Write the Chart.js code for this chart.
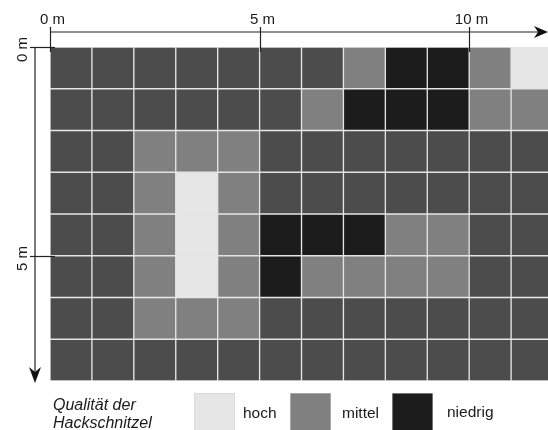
<!DOCTYPE html>
<html>
<head>
<meta charset="utf-8">
<script src="https://cdn.jsdelivr.net/npm/chart.js@4/dist/chart.umd.min.js"></script>
<style>
  html, body { margin: 0; padding: 0; background: #fff; overflow: hidden; }
  canvas { display: block; }
</style>
</head>
<body>
<canvas id="grid" width="548" height="430"></canvas>
<script>
// Data
const cellCols = [0, 1, 2, 3, 4, 5, 6, 7, 8, 9, 10, 11]; // meters from left edge
// quality per cell, one row per meter downwards: x = rest, h = hoch, m = mittel, n = niedrig
const quality = [
  ['x', 'x', 'x', 'x', 'x', 'x', 'x', 'm', 'n', 'n', 'm', 'h'],
  ['x', 'x', 'x', 'x', 'x', 'x', 'm', 'n', 'n', 'n', 'm', 'm'],
  ['x', 'x', 'm', 'm', 'm', 'x', 'x', 'x', 'x', 'x', 'x', 'x'],
  ['x', 'x', 'm', 'h', 'm', 'x', 'x', 'x', 'x', 'x', 'x', 'x'],
  ['x', 'x', 'm', 'h', 'm', 'n', 'n', 'n', 'm', 'm', 'x', 'x'],
  ['x', 'x', 'm', 'h', 'm', 'n', 'm', 'm', 'm', 'm', 'x', 'x'],
  ['x', 'x', 'm', 'm', 'm', 'x', 'x', 'x', 'x', 'x', 'x', 'x'],
  ['x', 'x', 'x', 'x', 'x', 'x', 'x', 'x', 'x', 'x', 'x', 'x']
];
const xTicks = [0, 5, 10];
const xTickLabels = ['0 m', '5 m', '10 m'];
const yTicks = [0, 5];
const yTickLabels = ['0 m', '5 m'];
const legendCodes = ['h', 'm', 'n'];
const legendLabels = ['hoch', 'mittel', 'niedrig'];
const legendTitle = ['Qualität der', 'Hackschnitzel'];

// Styles
const classColors = { x: '#4c4c4c', h: '#e6e6e6', m: '#808080', n: '#1c1c1c' };
const FONT = '"Liberation Sans", Arial, sans-serif';
const INK = '#1a1a1a';

const datasets = quality.map((row, r) => ({
  label: 'row ' + r,
  data: cellCols.map(c => ({ x: c + 0.5, y: [r, r + 1] })),
  backgroundColor: row.map(code => classColors[code]),
  borderColor: '#e4e4e4',
  borderWidth: 1,
  borderSkipped: false,
  grouped: false,
  barPercentage: 1,
  categoryPercentage: 1
}));

function arrowRight(ctx, x, y) {
  ctx.beginPath();
  ctx.moveTo(x, y);
  ctx.lineTo(x - 14, y - 6);
  ctx.lineTo(x - 10, y);
  ctx.lineTo(x - 14, y + 6);
  ctx.closePath();
  ctx.fill();
}

function arrowDown(ctx, x, y) {
  ctx.beginPath();
  ctx.moveTo(x, y);
  ctx.lineTo(x - 6, y - 16);
  ctx.lineTo(x, y - 11);
  ctx.lineTo(x + 6, y - 16);
  ctx.closePath();
  ctx.fill();
}

const axesPlugin = {
  id: 'axesPlugin',
  afterDraw(chart) {
    const ctx = chart.ctx;
    const xs = chart.scales.x;
    const ys = chart.scales.y;
    const area = chart.chartArea;
    ctx.save();
    ctx.strokeStyle = '#222';
    ctx.fillStyle = '#111';
    ctx.lineWidth = 1.2;

    // top axis
    const axisY = area.top - 15;
    ctx.beginPath();
    ctx.moveTo(xs.getPixelForValue(0), axisY);
    ctx.lineTo(chart.width - 8, axisY);
    ctx.stroke();
    arrowRight(ctx, chart.width, axisY);

    ctx.font = '15px ' + FONT;
    ctx.textAlign = 'center';
    ctx.textBaseline = 'alphabetic';
    xTicks.forEach((v, i) => {
      const px = Math.round(xs.getPixelForValue(v)) + 0.5;
      ctx.beginPath();
      ctx.moveTo(px, axisY - 5);
      ctx.lineTo(px, area.top + 5);
      ctx.stroke();
      ctx.fillStyle = INK;
      ctx.fillText(xTickLabels[i], px + 2, axisY - 8);
    });

    // left axis
    const axisX = area.left - 15;
    ctx.fillStyle = '#111';
    ctx.beginPath();
    ctx.moveTo(axisX, ys.getPixelForValue(0));
    ctx.lineTo(axisX, area.bottom - 6);
    ctx.stroke();
    arrowDown(ctx, axisX, area.bottom + 2);

    yTicks.forEach((v, i) => {
      const py = Math.round(ys.getPixelForValue(v)) + 0.5;
      ctx.beginPath();
      ctx.moveTo(axisX - 5, py);
      ctx.lineTo(area.left + 5, py);
      ctx.stroke();
      ctx.save();
      ctx.translate(axisX - 8, py + 2);
      ctx.rotate(-Math.PI / 2);
      ctx.fillStyle = INK;
      ctx.textAlign = 'center';
      ctx.fillText(yTickLabels[i], 0, 0);
      ctx.restore();
    });

    // legend
    ctx.fillStyle = INK;
    ctx.textAlign = 'left';
    ctx.font = 'italic 16px ' + FONT;
    legendTitle.forEach((t, i) => ctx.fillText(t, 53, 410 + i * 18));

    const boxX = [194, 290, 392];
    const textX = [243, 342, 447];
    ctx.font = '15.5px ' + FONT;
    legendCodes.forEach((code, i) => {
      ctx.fillStyle = classColors[code];
      ctx.fillRect(boxX[i], 393, 41, 41);
      ctx.strokeStyle = '#d0d0d0';
      ctx.lineWidth = 0.5;
      ctx.strokeRect(boxX[i] + 0.25, 393.25, 40.5, 40.5);
      ctx.fillStyle = INK;
      ctx.fillText(legendLabels[i], textX[i], i === 2 ? 417 : 418);
    });
    ctx.restore();
  }
};

new Chart(document.getElementById('grid'), {
  type: 'bar',
  data: { datasets: datasets },
  options: {
    responsive: false,
    animation: false,
    devicePixelRatio: 1,
    layout: { padding: { left: 50, top: 47, right: 0, bottom: 49 } },
    plugins: {
      legend: { display: false },
      tooltip: { enabled: false }
    },
    scales: {
      x: { type: 'linear', min: 0, max: 11.88, offset: false, display: false },
      y: { type: 'linear', min: 0, max: 8, reverse: true, display: false }
    }
  },
  plugins: [axesPlugin]
});
</script>
</body>
</html>
